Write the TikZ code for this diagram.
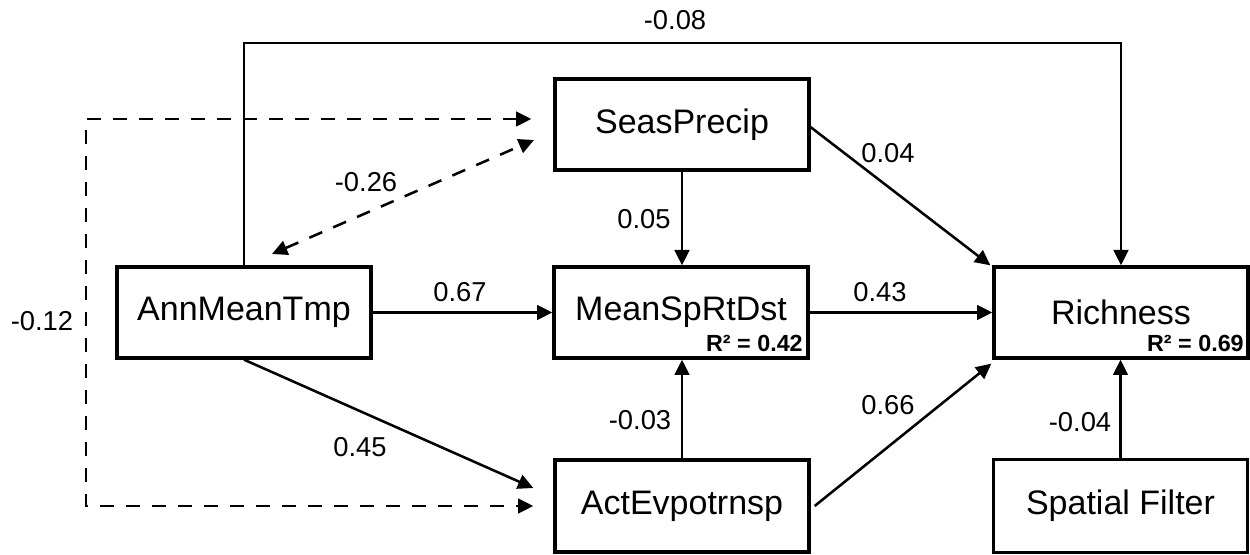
\documentclass[tikz,border=0pt]{standalone}
\usepackage{fontspec}
\setmainfont{Liberation Sans}
\usetikzlibrary{arrows.meta,calc}
\begin{document}
\begin{tikzpicture}[x=0.75pt,y=-0.75pt,
  box/.style={draw=black,line width=2.5pt,minimum width=190.5pt,minimum height=68.25pt,inner sep=0pt,font=\fontsize{25.5}{30}\selectfont},
  lab/.style={inner sep=0pt,font=\fontsize{20.5}{24}\selectfont},
  rsq/.style={inner sep=0pt,anchor=base east,font=\fontsize{17.5}{20}\selectfont\bfseries},
  arr/.style={line width=1.9pt,-{Triangle[length=11.5pt,width=11pt]}},
  darr/.style={line width=1.9pt,dash pattern=on 10.5pt off 9pt,{Triangle[length=11.5pt,width=11pt]}-{Triangle[length=11.5pt,width=11pt]}}]
\useasboundingbox (0,0) rectangle (1250,555);
% boxes
\node[box] (SP) at (682,124.5) {SeasPrecip};
\node[box] (AMT) at (244,312.5) {AnnMeanTmp};
\node[box] (MSR) at (681,312.5) {MeanSpRtDst};
\node[box] (R) at (1121,312.5) {Richness};
\node[box,minimum height=69pt] (AE) at (682,506) {ActEvpotrnsp};
\node[box,minimum height=70pt] (SF) at (1120.5,506) {Spatial Filter};
\node[rsq] (r1) at (803,352) {R² = 0.42};
\node[rsq] (r2) at (1244,352) {R² = 0.69};
% helper coordinates
\coordinate (t1) at (244,43);
\coordinate (t2) at (1121,43);
\coordinate (d1) at (86,119);
\coordinate (d2) at (86,506);
\coordinate (c1) at (272,254);
\coordinate (c2) at (534,140);
% connectors
\draw[arr] (AMT.north) -- (t1) -- (t2) -- (R.north);
\draw[darr] ([shift={(-22,-5.5)}]SP.west) -- (d1) -- (d2) -- ([shift={(-20,0)}]AE.west);
\draw[darr] (c1) -- (c2);
\draw[arr] (SP.south) -- (SP.south |- MSR.north);
\draw[arr] ([yshift=-2pt]SP.east) -- ([xshift=-1.5pt]R.north west);
\draw[arr] (AMT.east) -- (MSR.west);
\draw[arr] (MSR.east) -- (R.west);
\draw[arr] (AMT.south) -- ([shift={(-20,-18)}]AE.west);
\draw[arr] (AE.north) -- (AE.north |- MSR.south);
\draw[arr] ([shift={(4,0)}]AE.east) -- ([shift={(-1,4)}]R.south west);
\draw[arr] (SF.north) -- (SF.north |- R.south);
% labels
\node[lab] (l1) at (675,20) {-0.08};
\node[lab] (l2) at (366,182) {-0.26};
\node[lab] (l3) at (42,321) {-0.12};
\node[lab] (l4) at (644,219) {0.05};
\node[lab] (l5) at (460,292) {0.67};
\node[lab] (l6) at (880,292) {0.43};
\node[lab] (l7) at (888,153) {0.04};
\node[lab] (l8) at (360,447) {0.45};
\node[lab] (l9) at (640,420) {-0.03};
\node[lab] (l10) at (888,405) {0.66};
\node[lab] (l11) at (1080,422) {-0.04};
\end{tikzpicture}
\end{document}
